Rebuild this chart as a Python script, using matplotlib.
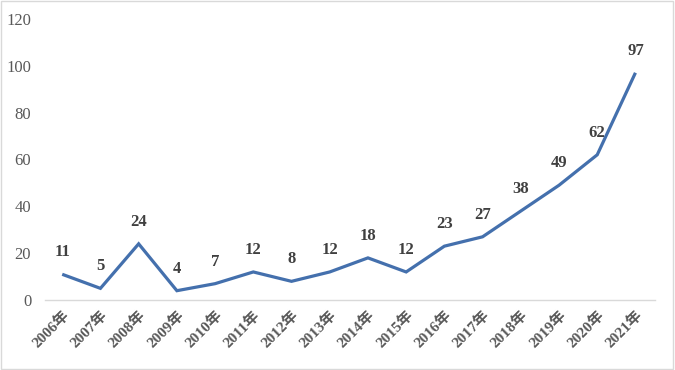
import matplotlib.pyplot as plt
from matplotlib.patches import Rectangle

years = ["2006年", "2007年", "2008年", "2009年", "2010年", "2011年", "2012年", "2013年",
         "2014年", "2015年", "2016年", "2017年", "2018年", "2019年", "2020年", "2021年"]
counts = [11, 5, 24, 4, 7, 12, 8, 12, 18, 12, 23, 27, 38, 49, 62, 97]
yticks = [0, 20, 40, 60, 80, 100, 120]

fonts = ["Liberation Serif", "Noto Sans CJK SC", "DejaVu Sans"]
plt.rcParams["font.family"] = fonts

fig = plt.figure(figsize=(6.75, 3.7), dpi=100)
ax = fig.add_axes([0.0667, 0.189, 0.903, 0.76])

x = list(range(len(years)))
ax.plot(x, counts, color="#4470AD", linewidth=2.3, solid_capstyle="butt", solid_joinstyle="miter")

for xi, v in zip(x, counts):
    ax.annotate(str(v), (xi, v), xytext=(0, 10), textcoords="offset points",
                ha="center", va="bottom", fontsize=12, fontweight="bold", color="#404040")

ax.set_xlim(-0.45, 15.5)
ax.set_ylim(0, 120)
ax.set_yticks(yticks)
ax.set_yticklabels([str(t) for t in yticks], fontsize=12, color="#595959")
ax.set_xticks(x)
ax.set_xticklabels(years, rotation=45, ha="right", rotation_mode="anchor",
                   fontsize=11, fontweight="bold", color="#595959")

for s in ["top", "right", "left"]:
    ax.spines[s].set_visible(False)
ax.spines["bottom"].set_color("#d9d9d9")
ax.spines["bottom"].set_linewidth(1.0)
ax.tick_params(axis="both", length=0)
ax.tick_params(axis="y", pad=10)
ax.tick_params(axis="x", pad=6)

fig.patches.append(Rectangle((0.002, 0.003), 0.995, 0.993, transform=fig.transFigure,
                             fill=False, edgecolor="#d9d9d9", linewidth=1.0))

fig.savefig("out.png", dpi=100)
